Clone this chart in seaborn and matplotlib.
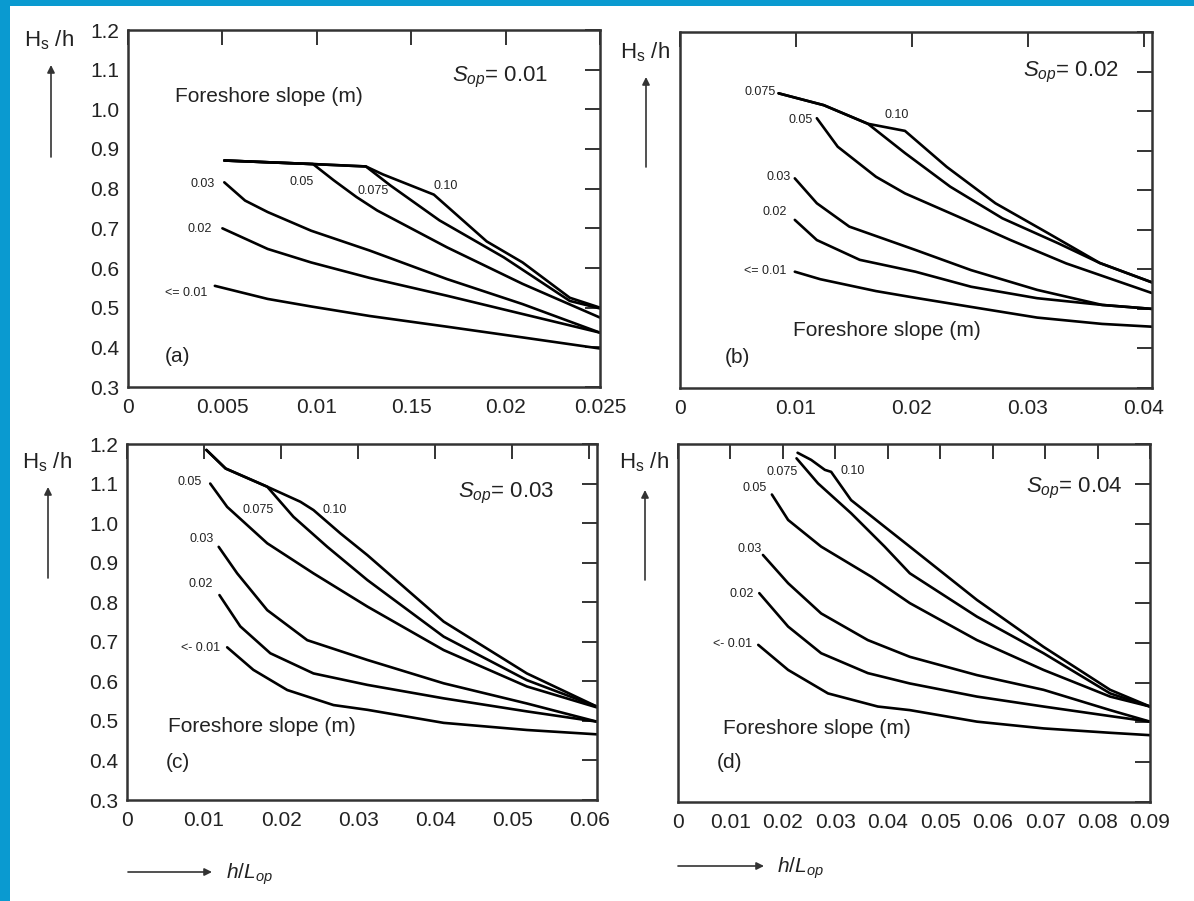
import numpy as np
import pandas as pd
import matplotlib
matplotlib.use("Agg")
import matplotlib.pyplot as plt
import seaborn as sns
from matplotlib.patches import Rectangle, FancyArrowPatch

# ---------------- data ----------------
slope_labels = ["<= 0.01", "0.02", "0.03", "0.05", "0.075", "0.10"]

# panel (a)  S_op = 0.01
a_x_s001 = [0.0046, 0.0074, 0.0097, 0.0128, 0.0169, 0.0209, 0.025]
a_y_s001 = [0.555, 0.522, 0.503, 0.479, 0.452, 0.425, 0.397]
a_x_s002 = [0.0050, 0.0074, 0.0097, 0.0128, 0.0169, 0.0209, 0.025]
a_y_s002 = [0.700, 0.648, 0.614, 0.575, 0.530, 0.484, 0.437]
a_x_s003 = [0.0051, 0.0062, 0.0074, 0.0097, 0.0128, 0.0169, 0.0209, 0.025]
a_y_s003 = [0.816, 0.770, 0.741, 0.694, 0.644, 0.572, 0.509, 0.437]
a_x_s005 = [0.0051, 0.0098, 0.0109, 0.0121, 0.0132, 0.0169, 0.0209, 0.025]
a_y_s005 = [0.871, 0.862, 0.821, 0.779, 0.745, 0.652, 0.560, 0.475]
a_x_s0075 = [0.0051, 0.0098, 0.0126, 0.0139, 0.0165, 0.0199, 0.0234, 0.025]
a_y_s0075 = [0.871, 0.862, 0.856, 0.808, 0.720, 0.627, 0.517, 0.498]
a_x_s010 = [0.0051, 0.0098, 0.0126, 0.0135, 0.0162, 0.0190, 0.0209, 0.0234, 0.025]
a_y_s010 = [0.871, 0.862, 0.856, 0.836, 0.785, 0.667, 0.614, 0.525, 0.500]

# panel (b)  S_op = 0.02
b_x_s001 = [0.0099, 0.0121, 0.0169, 0.0203, 0.0251, 0.0308, 0.0364, 0.0407]
b_y_s001 = [0.594, 0.575, 0.545, 0.528, 0.505, 0.478, 0.462, 0.455]
b_x_s002 = [0.0099, 0.0118, 0.0155, 0.0203, 0.0251, 0.0308, 0.0364, 0.0407]
b_y_s002 = [0.725, 0.674, 0.624, 0.594, 0.556, 0.527, 0.510, 0.500]
b_x_s003 = [0.0099, 0.0118, 0.0146, 0.0203, 0.0251, 0.0308, 0.0364, 0.0407]
b_y_s003 = [0.830, 0.767, 0.708, 0.649, 0.598, 0.548, 0.510, 0.500]
b_x_s005 = [0.0118, 0.0136, 0.0169, 0.0194, 0.0240, 0.0285, 0.0333, 0.0407]
b_y_s005 = [0.982, 0.910, 0.834, 0.792, 0.733, 0.674, 0.615, 0.540]
b_x_s0075 = [0.0085, 0.0124, 0.0162, 0.0194, 0.0233, 0.0278, 0.0326, 0.0362, 0.0407]
b_y_s0075 = [1.045, 1.015, 0.968, 0.894, 0.809, 0.729, 0.666, 0.616, 0.567]
b_x_s010 = [0.0085, 0.0124, 0.0162, 0.0194, 0.0230, 0.0272, 0.0317, 0.0362, 0.0407]
b_y_s010 = [1.045, 1.015, 0.968, 0.950, 0.859, 0.767, 0.692, 0.616, 0.567]

# panel (c)  S_op = 0.03
c_x_s001 = [0.0130, 0.0164, 0.0208, 0.0268, 0.0312, 0.0411, 0.0519, 0.061]
c_y_s001 = [0.686, 0.629, 0.578, 0.540, 0.528, 0.495, 0.477, 0.466]
c_x_s002 = [0.0120, 0.0147, 0.0186, 0.0242, 0.0312, 0.0411, 0.0519, 0.061]
c_y_s002 = [0.818, 0.739, 0.671, 0.620, 0.591, 0.557, 0.524, 0.498]
c_x_s003 = [0.0119, 0.0143, 0.0182, 0.0234, 0.0312, 0.0411, 0.0519, 0.061]
c_y_s003 = [0.940, 0.873, 0.780, 0.704, 0.654, 0.595, 0.544, 0.498]
c_x_s005 = [0.0108, 0.0130, 0.0182, 0.0242, 0.0312, 0.0411, 0.0519, 0.061]
c_y_s005 = [1.100, 1.041, 0.949, 0.873, 0.789, 0.679, 0.587, 0.534]
c_x_s0075 = [0.0103, 0.0128, 0.0182, 0.0216, 0.0260, 0.0312, 0.0411, 0.0519, 0.061]
c_y_s0075 = [1.185, 1.138, 1.092, 1.016, 0.940, 0.856, 0.713, 0.603, 0.536]
c_x_s010 = [0.0103, 0.0128, 0.0182, 0.0225, 0.0242, 0.0277, 0.0312, 0.0411, 0.0519, 0.061]
c_y_s010 = [1.185, 1.138, 1.092, 1.054, 1.033, 0.974, 0.919, 0.751, 0.620, 0.536]

# panel (d)  S_op = 0.04
d_x_s001 = [0.0153, 0.0210, 0.0286, 0.0381, 0.0442, 0.0570, 0.0697, 0.0824, 0.09]
d_y_s001 = [0.695, 0.632, 0.573, 0.540, 0.531, 0.502, 0.485, 0.474, 0.468]
d_x_s002 = [0.0155, 0.0210, 0.0273, 0.0362, 0.0442, 0.0570, 0.0697, 0.0824, 0.09]
d_y_s002 = [0.825, 0.741, 0.674, 0.624, 0.598, 0.565, 0.540, 0.516, 0.502]
d_x_s003 = [0.0162, 0.0210, 0.0273, 0.0362, 0.0442, 0.0570, 0.0697, 0.0824, 0.09]
d_y_s003 = [0.921, 0.850, 0.774, 0.707, 0.665, 0.619, 0.582, 0.531, 0.502]
d_x_s005 = [0.0179, 0.0210, 0.0273, 0.0369, 0.0442, 0.0570, 0.0697, 0.0824, 0.09]
d_y_s005 = [1.073, 1.009, 0.942, 0.866, 0.800, 0.707, 0.632, 0.565, 0.540]
d_x_s0075 = [0.0226, 0.0267, 0.0330, 0.0394, 0.0442, 0.0570, 0.0697, 0.0824, 0.09]
d_y_s0075 = [1.164, 1.101, 1.026, 0.942, 0.875, 0.766, 0.674, 0.573, 0.540]
d_x_s010 = [0.0228, 0.0254, 0.0280, 0.0292, 0.0330, 0.0394, 0.0442, 0.0570, 0.0697, 0.0824, 0.09]
d_y_s010 = [1.178, 1.160, 1.135, 1.130, 1.059, 0.992, 0.942, 0.808, 0.690, 0.582, 0.540]

# axes settings
a_xticks = [0, 0.005, 0.01, 0.015, 0.02, 0.025]
a_xticklabels = ["0", "0.005", "0.01", "0.15", "0.02", "0.025"]
b_xticks = [0, 0.01, 0.02, 0.03, 0.04]
b_xticklabels = ["0", "0.01", "0.02", "0.03", "0.04"]
c_xticks = [0, 0.01, 0.02, 0.03, 0.04, 0.05, 0.06]
c_xticklabels = ["0", "0.01", "0.02", "0.03", "0.04", "0.05", "0.06"]
d_xticks = [0, 0.01, 0.02, 0.03, 0.04, 0.05, 0.06, 0.07, 0.08, 0.09]
d_xticklabels = ["0", "0.01", "0.02", "0.03", "0.04", "0.05", "0.06", "0.07", "0.08", "0.09"]
yticks = [0.3, 0.4, 0.5, 0.6, 0.7, 0.8, 0.9, 1.0, 1.1, 1.2]
yticklabels = ["0.3", "0.4", "0.5", "0.6", "0.7", "0.8", "0.9", "1.0", "1.1", "1.2"]
sop_values = ["0.01", "0.02", "0.03", "0.04"]
panel_tags = ["(a)", "(b)", "(c)", "(d)"]

# ---------------- style ----------------
sns.set_theme(style="white")
plt.rcParams["font.family"] = ["Liberation Sans", "DejaVu Sans"]
plt.rcParams["mathtext.fontset"] = "custom"
plt.rcParams["mathtext.rm"] = "Liberation Sans"
plt.rcParams["mathtext.it"] = "Liberation Sans:italic"
plt.rcParams["mathtext.bf"] = "Liberation Sans:bold"

W, H = 1194, 901
fig = plt.figure(figsize=(W / 100, H / 100), dpi=100)
fig.patch.set_facecolor("white")

TXT = "#222222"


def fx(px):
    return px / W


def fy(py):
    return 1 - py / H


def axes_px(l, t, r, b):
    return fig.add_axes([fx(l), fy(b), (r - l) / W, (b - t) / H])


def draw_panel(ax, xs, ys, xlim, xticks, xticklabels, show_ylabels):
    frames = []
    for x, y, lab in zip(xs, ys, slope_labels):
        frames.append(pd.DataFrame({"x": x, "y": y, "slope": lab}))
    df = pd.concat(frames, ignore_index=True)
    sns.lineplot(data=df, x="x", y="y", units="slope", estimator=None,
                 sort=False, color="black", lw=1.9, ax=ax, legend=False,
                 solid_joinstyle="round", solid_capstyle="round")
    ax.set_xlim(*xlim)
    ax.set_ylim(0.3, 1.2)
    ax.set_xticks(xticks)
    ax.set_xticklabels(xticklabels, fontsize=15, color=TXT)
    ax.set_yticks(yticks)
    if show_ylabels:
        ax.set_yticklabels(yticklabels, fontsize=15, color=TXT)
    else:
        ax.set_yticklabels([])
    ax.set_xlabel("")
    ax.set_ylabel("")
    ax.tick_params(axis="both", direction="in", length=11, width=1.4,
                   color="#333333", top=True, right=True)
    ax.tick_params(axis="x", pad=8)
    ax.tick_params(axis="y", pad=6)
    for s in ax.spines.values():
        s.set_linewidth(1.8)
        s.set_color("#333333")
        s.set_visible(True)
    ax.set_facecolor("white")


ax_a = axes_px(128, 30, 600, 387)
ax_b = axes_px(680, 32, 1152, 388)
ax_c = axes_px(127, 444, 597, 800)
ax_d = axes_px(678, 444, 1150, 802)

draw_panel(ax_a, [a_x_s001, a_x_s002, a_x_s003, a_x_s005, a_x_s0075, a_x_s010],
           [a_y_s001, a_y_s002, a_y_s003, a_y_s005, a_y_s0075, a_y_s010],
           (0, 0.025), a_xticks, a_xticklabels, True)
draw_panel(ax_b, [b_x_s001, b_x_s002, b_x_s003, b_x_s005, b_x_s0075, b_x_s010],
           [b_y_s001, b_y_s002, b_y_s003, b_y_s005, b_y_s0075, b_y_s010],
           (0, 0.0407), b_xticks, b_xticklabels, False)
draw_panel(ax_c, [c_x_s001, c_x_s002, c_x_s003, c_x_s005, c_x_s0075, c_x_s010],
           [c_y_s001, c_y_s002, c_y_s003, c_y_s005, c_y_s0075, c_y_s010],
           (0, 0.061), c_xticks, c_xticklabels, True)
draw_panel(ax_d, [d_x_s001, d_x_s002, d_x_s003, d_x_s005, d_x_s0075, d_x_s010],
           [d_y_s001, d_y_s002, d_y_s003, d_y_s005, d_y_s0075, d_y_s010],
           (0, 0.09), d_xticks, d_xticklabels, False)


def T(px, py, s, size, **kw):
    fig.text(fx(px), fy(py), s, ha="center", va="center", fontsize=size,
             color=TXT, **kw)


def arrow(x1, y1, x2, y2):
    fig.add_artist(FancyArrowPatch((fx(x1), fy(y1)), (fx(x2), fy(y2)),
                                   transform=fig.transFigure,
                                   arrowstyle="-|>", mutation_scale=11,
                                   lw=1.2, color="#333333",
                                   shrinkA=0, shrinkB=0))


# y-axis labels with arrows
for (lx, ly), (ax_, y1, y2) in zip([(49, 40), (645, 52), (47, 462), (644, 462)],
                                   [(51, 157, 65), (646, 167, 77),
                                    (48, 578, 487), (645, 580, 490)]):
    T(lx, ly, r"H$_\mathrm{s}$ /h", 16)
    arrow(ax_, y1, ax_, y2)

# S_op annotations
for (px, py), v in zip([(500, 77), (1071, 72), (506, 493), (1074, 488)], sop_values):
    T(px, py, r"$S_{op}$= " + v, 16)

# Foreshore slope
for px, py in [(269, 97), (887, 331), (262, 727), (817, 729)]:
    T(px, py, "Foreshore slope (m)", 15)

# panel tags
for (px, py), tag in zip([(178, 357), (737, 358), (178, 763), (730, 763)], panel_tags):
    T(px, py, tag, 15)

# slope labels
lab_a = [(186, 293), (200, 229), (203, 184), (302, 182), (373, 191), (446, 186)]
lab_b = [(765, 271), (775, 212), (779, 177), (801, 120), (760, 92), (897, 115)]
lab_c = [(201, 648), (201, 584), (202, 539), (190, 482), (258, 510), (335, 510)]
lab_d = [(733, 644), (742, 594), (750, 549), (755, 488), (782, 472), (853, 471)]
for pos_list, first in [(lab_a, "<= 0.01"), (lab_b, "<= 0.01"),
                        (lab_c, "<- 0.01"), (lab_d, "<- 0.01")]:
    for (px, py), lab in zip(pos_list, [first] + slope_labels[1:]):
        T(px, py, lab, 9)

# x-axis labels with arrows
arrow(128, 872, 212, 872)
T(249, 874, r"$h/L_{op}$", 15)
arrow(678, 866, 764, 866)
T(800, 868, r"$h/L_{op}$", 15)

# blue frame strips
blue = "#0a9ad0"
fig.add_artist(Rectangle((0, 0), fx(10), 1, transform=fig.transFigure,
                         color=blue, zorder=10, lw=0))
fig.add_artist(Rectangle((0, fy(6)), 1, 6 / H, transform=fig.transFigure,
                         color=blue, zorder=10, lw=0))

fig.savefig("out.png", dpi=100)
